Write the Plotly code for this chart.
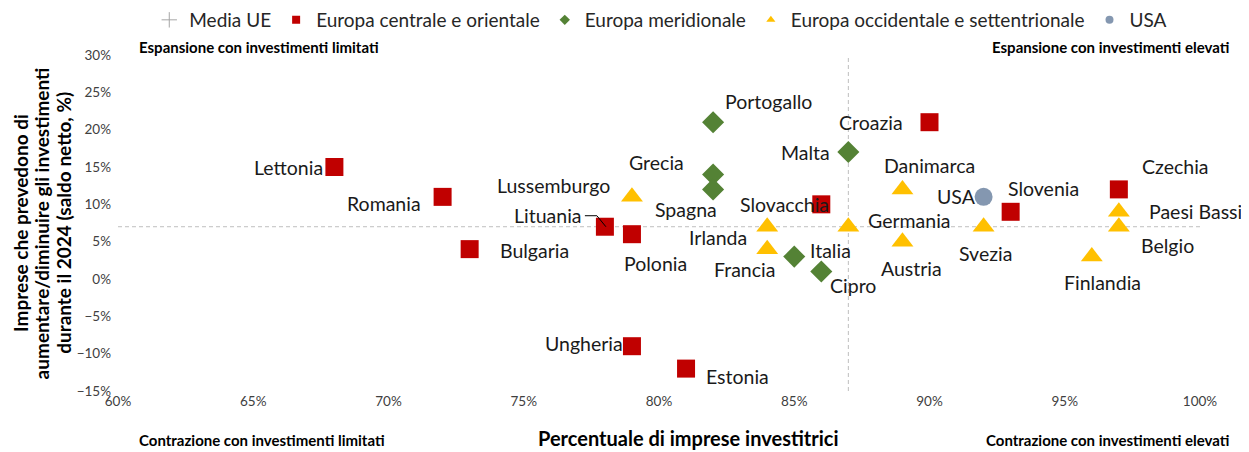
import plotly.graph_objects as go

# Data
# ----------------------------------------------
# x: percentuale di imprese investitrici, y: saldo netto (%)

cee_names = ['Lettonia', 'Romania', 'Bulgaria', 'Lituania', 'Polonia', 'Ungheria',
             'Estonia', 'Slovacchia', 'Croazia', 'Slovenia', 'Czechia']
cee_x = [68, 72, 73, 78, 79, 79, 81, 86, 90, 93, 97]
cee_y = [15, 11, 4, 7, 6, -9, -12, 10, 21, 9, 12]

south_names = ['Portogallo', 'Grecia', 'Spagna', 'Malta', 'Italia', 'Cipro']
south_x = [82, 82, 82, 87, 85, 86]
south_y = [21, 14, 12, 17, 3, 1]

west_names = ['Lussemburgo', 'Irlanda', 'Francia', 'Germania', 'Danimarca', 'Austria',
              'Svezia', 'Finlandia', 'Paesi Bassi', 'Belgio']
west_x = [79, 84, 84, 87, 89, 89, 92, 96, 97, 97]
west_y = [11, 7, 4, 7, 12, 5, 7, 3, 9, 7]

usa_names = ['USA']
usa_x = [92]
usa_y = [11]

eu_x = 87
eu_y = 7

x_range = [60, 100]
y_range = [-15, 30]

y_title_lines = ['Imprese che prevedono di',
                 'aumentare/diminuire gli investimenti',
                 'durante il 2024 (saldo netto, %)']

# label placement: anchor, dx, dy (pixels, dy down)
label_pos = {
    'Lettonia': ('right', -9, 0), 'Romania': ('right', -20, 7), 'Bulgaria': ('left', 28, 1),
    'Lituania': ('right', -21, -11), 'Polonia': ('center', 24, 29), 'Ungheria': ('right', -7, -3),
    'Estonia': ('left', 18, 8), 'Slovacchia': ('right', 10, 0), 'Croazia': ('right', -25, 0),
    'Slovenia': ('left', -5, -23), 'Czechia': ('left', 21, -23),
    'Portogallo': ('left', 10, -21), 'Grecia': ('right', -27, -12), 'Spagna': ('right', 6, 20),
    'Malta': ('right', -16, 0), 'Italia': ('left', 14, -6), 'Cipro': ('left', 7, 14),
    'Lussemburgo': ('right', -20, -11), 'Irlanda': ('right', -18, 11), 'Francia': ('right', 10, 20),
    'Germania': ('left', 18, -6), 'Danimarca': ('center', 27, -24), 'Austria': ('center', 9, 27),
    'Svezia': ('center', 2, 27), 'Finlandia': ('center', 11, 26), 'Paesi Bassi': ('left', 28, 0),
    'Belgio': ('left', 20, 19), 'USA': ('right', -6, 0),
}

FONT = 'Lato'
red = '#C00000'
green = '#548235'
yellow = '#FFC000'
blue = '#8497B0'
grey = '#A6A6A6'

fig = go.Figure()

# Media UE: reference lines
fig.add_trace(go.Scatter(x=x_range, y=[eu_y, eu_y], mode='lines', showlegend=False, hoverinfo='skip',
                         line=dict(color='#BFBFBF', width=1, dash='4px,3px')))
fig.add_trace(go.Scatter(x=[eu_x, eu_x], y=y_range, mode='lines', showlegend=False, hoverinfo='skip',
                         line=dict(color='#BFBFBF', width=1, dash='4px,3px')))

groups = [
    ('Europa centrale e orientale', cee_names, cee_x, cee_y, 'square', red, 18),
    ('Europa meridionale', south_names, south_x, south_y, 'diamond', green, 17),
    ('Europa occidentale e settentrionale', west_names, west_x, west_y, 'triangle-up', yellow, 19),
    ('USA', usa_names, usa_x, usa_y, 'circle', blue, 18),
]

for name, names, xs, ys, sym, col, size in groups:
    fig.add_trace(go.Scatter(x=xs, y=ys, mode='markers', name=name, text=names, showlegend=False,
                             marker=dict(symbol=sym, color=col, size=size, line=dict(width=0))))

# legend-only entries with small symbols
fig.add_trace(go.Scatter(x=[None], y=[None], mode='markers', name='Media UE',
                         marker=dict(symbol='cross-thin', size=11, line=dict(color=grey, width=1))))
for name, names, xs, ys, sym, col, size in groups:
    fig.add_trace(go.Scatter(x=[None], y=[None], mode='markers', name=name,
                             marker=dict(symbol=sym, color=col, size=8)))

# country labels
annotations = []
for name, names, xs, ys, sym, col, size in groups:
    for n, x, y in zip(names, xs, ys):
        anchor, dx, dy = label_pos[n]
        annotations.append(dict(x=x, y=y, text=n, showarrow=False, xanchor=anchor, yanchor='middle',
                                xshift=dx, yshift=-dy, font=dict(family=FONT, size=19.5, color='#1a1a1a')))

# quadrant labels
corner_font = dict(family=FONT, size=15, color='black', weight='bold')
annotations += [
    dict(text='Espansione con investimenti limitati', x=0.018, y=1.024, xref='paper', yref='paper',
         xanchor='left', yanchor='middle', showarrow=False, font=corner_font),
    dict(text='Espansione con investimenti elevati', x=1.029, y=1.024, xref='paper', yref='paper',
         xanchor='right', yanchor='middle', showarrow=False, font=corner_font),
    dict(text='Contrazione con investimenti limitati', x=0.018, y=-0.147, xref='paper', yref='paper',
         xanchor='left', yanchor='middle', showarrow=False, font=corner_font),
    dict(text='Contrazione con investimenti elevati', x=1.029, y=-0.147, xref='paper', yref='paper',
         xanchor='right', yanchor='middle', showarrow=False, font=corner_font),
    dict(text='Percentuale di imprese investitrici', x=0.527, y=-0.14, xref='paper', yref='paper',
         xanchor='center', yanchor='middle', showarrow=False,
         font=dict(family=FONT, size=20, color='black', weight='bold')),
]

# y axis title, one annotation per line
for i, line in enumerate(y_title_lines):
    annotations.append(dict(text=line, x=-0.0906 + i * 0.0198, y=0.5, xref='paper', yref='paper',
                            xanchor='center', yanchor='middle', textangle=-90, showarrow=False,
                            font=dict(family=FONT, size=19, color='black', weight='bold')))

# leader line for Lituania
shapes = [dict(type='path', xref='x', yref='y', xsizemode='pixel', ysizemode='pixel',
               xanchor=cee_x[3], yanchor=cee_y[3], path='M -20,11 L -8,11 L 1,0',
               line=dict(color='black', width=1))]

# the page body adds an 8px offset, so the figure is 8px smaller on each side
fig.update_layout(
    width=1241, height=444,
    margin=dict(l=110, r=49, t=47, b=61, autoexpand=False),
    paper_bgcolor='white', plot_bgcolor='white',
    font=dict(family=FONT, color='#404040'),
    showlegend=True,
    legend=dict(orientation='h', xref='container', yref='container', x=0.526, y=0.973,
                xanchor='center', yanchor='middle', font=dict(family=FONT, size=19, color='#262626'),
                itemsizing='trace', tracegroupgap=0, itemwidth=30),
    annotations=annotations,
    shapes=shapes,
)

fig.update_xaxes(range=x_range, dtick=5, ticksuffix='%', showgrid=False, zeroline=False, showline=False,
                 automargin=False, tickfont=dict(family=FONT, size=13.5, color='#404040'))
fig.update_yaxes(range=y_range, dtick=5, ticksuffix='%', showgrid=False, zeroline=False, showline=False,
                 automargin=False, tickfont=dict(family=FONT, size=13.5, color='#404040'),
                 ticklabelstandoff=6)

fig.write_html("out.html")
